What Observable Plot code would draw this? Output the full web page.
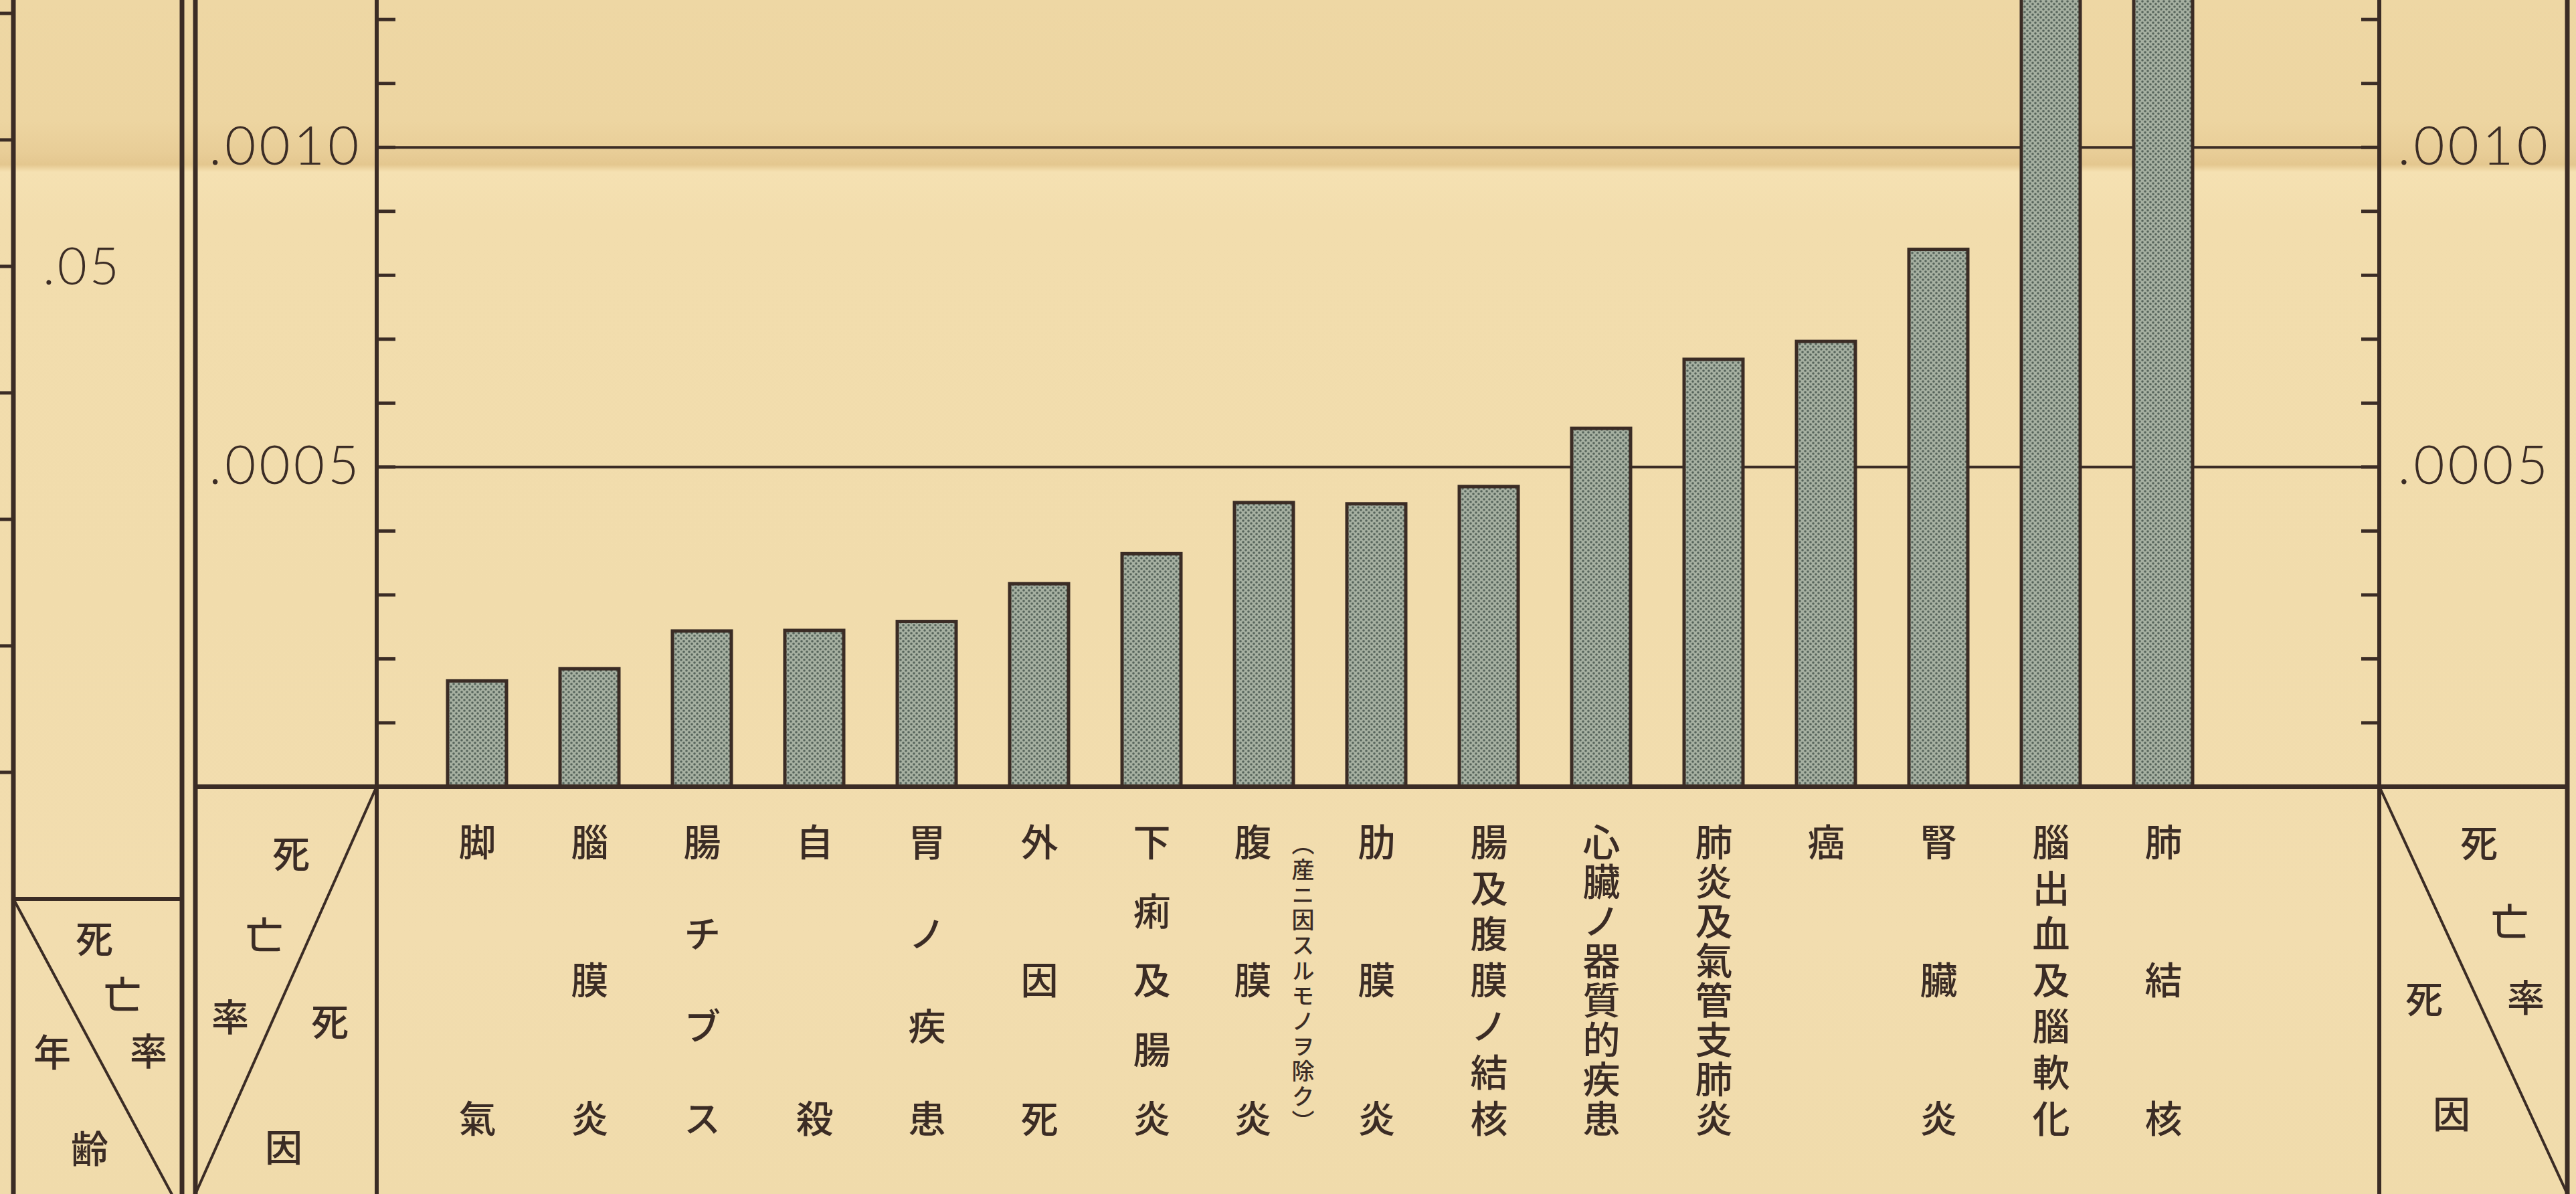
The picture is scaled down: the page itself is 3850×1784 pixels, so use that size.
<!DOCTYPE html>
<html>
<head>
<meta charset="utf-8">
<script src="https://cdn.jsdelivr.net/npm/d3@7"></script>
<script src="https://cdn.jsdelivr.net/npm/@observablehq/plot@0.6"></script>
<style>
  html, body { margin: 0; padding: 0; width: 3850px; height: 1784px; overflow: hidden; }
  body {
    background: linear-gradient(to bottom,
      #eed7a4 0px, #edd5a1 180px, #e8cd97 228px, #e4c78f 246px, #f5e1b2 257px,
      #f2ddad 330px, #f1dcac 900px, #f2ddaf 1400px, #f0dbab 1784px);
  }
  #chart svg { display: block; }
  .vert { writing-mode: vertical-rl; }
</style>
</head>
<body>
<div id="chart"></div>
<script>
// ---- data ----
const causes = [
  "脚氣", "腦膜炎", "腸チブス", "自殺", "胃ノ疾患", "外因死", "下痢及腸炎", "腹膜炎",
  "肋膜炎", "腸及腹膜ノ結核", "心臟ノ器質的疾患", "肺炎及氣管支肺炎", "癌", "腎臟炎",
  "腦出血及腦軟化", "肺結核"
];
const rates = [
  0.000165, 0.000184, 0.000243, 0.000244, 0.000258, 0.000317, 0.000364, 0.000444,
  0.000442, 0.000469, 0.000560, 0.000668, 0.000696, 0.000840,
  0.00132, 0.00148
];
const noteCause = "腹膜炎";
const noteText = "（産ニ因スルモノヲ除ク）";
const yTicks = [0.0001, 0.0002, 0.0003, 0.0004, 0.0005, 0.0006, 0.0007, 0.0008, 0.0009, 0.0010, 0.0011, 0.0012];
const yLabels = [0.0005, 0.0010];
const stripTicks = [0.01, 0.02, 0.03, 0.04, 0.05, 0.06, 0.07];
const stripLabels = [0.05];
const headerRateLabel = "死亡率";
const headerCauseLabel = "死因";
const headerAgeLabel = "年齢";

// ---- layout ----
const W = 3850, H = 1784;
const AXL = 563, AXR = 3556, BASE = 1175;
const INK = "#3b2c25";
const CJK = "'Noto Sans CJK JP', 'Noto Sans CJK SC', sans-serif";
const NUM = "Lato, 'Open Sans', sans-serif";
const LABEL_TOP = 1257, LABEL_BOTTOM = 1670, LABEL_FS = 56;
const NOTE_TOP = 1261, NOTE_BOTTOM = 1675, NOTE_FS = 34;

const data = causes.map((cause, i) => ({cause, rate: rates[i]}));
const fmt = d => d.toFixed(4).replace(/^0/, "");

// category label characters, set vertically and justified down the label row
const chars = [];
const spread = (cause, text, top, bottom, dx, fs) => {
  const s = [...text], n = s.length;
  s.forEach((ch, j) => chars.push({
    cause, ch, dx, fs,
    dy: (n === 1 ? top : top + j * (bottom - top) / (n - 1)) - BASE
  }));
};
causes.forEach(c => spread(c, c, LABEL_TOP, LABEL_BOTTOM, c === noteCause ? -17 : 0, LABEL_FS));
spread(noteCause, noteText, NOTE_TOP, NOTE_BOTTOM, 58, NOTE_FS);
const labelMarks = d3.groups(chars, d => `${d.dx}|${d.dy.toFixed(2)}|${d.fs}`)
  .map(([, arr]) => Plot.text(arr, {
    x: "cause", text: "ch", frameAnchor: "bottom",
    dx: arr[0].dx, dy: arr[0].dy, fontSize: arr[0].fs,
    fontFamily: CJK, fontWeight: 500, fill: INK
  }));

const axisOpts = {
  tickSize: -28, strokeWidth: 5, color: INK, label: null,
  tickFormat: d => yLabels.includes(d) ? fmt(d) : "",
  fontSize: 80, fontFamily: NUM, fontWeight: 300
};

const plot = Plot.plot({
  width: W, height: H,
  marginLeft: AXL, marginRight: W - AXR, marginTop: 0, marginBottom: H - BASE,
  style: {background: "transparent", overflow: "visible"},
  x: {type: "band", domain: causes, range: [629, 3318], paddingInner: 0.476, paddingOuter: 0.238, align: 0.5, axis: null},
  y: {domain: [0, 0.00123], range: [BASE, 0], axis: null},
  marks: [
    Plot.ruleY(yLabels, {stroke: INK, strokeWidth: 4}),
    Plot.axisY(yTicks, {...axisOpts, anchor: "left", textAnchor: "end", tickPadding: 50}),
    Plot.axisY(yTicks, {...axisOpts, anchor: "right", textAnchor: "start", tickPadding: 55}),
    Plot.barY(data, {x: "cause", y: "rate", fill: "url(#stip)", stroke: INK, strokeWidth: 5, clip: true}),
    Plot.ruleY([0], {stroke: INK, strokeWidth: 7, insetLeft: -(AXL - 292), insetRight: -(3837 - AXR)}),
    ...labelMarks
  ]
});
document.getElementById("chart").appendChild(plot);

const svg = d3.select(plot);
svg.selectAll('[aria-label="y-axis tick label"] text').attr("letter-spacing", 5);
// vertical setting for the category characters (each centred on its point)
svg.selectAll('g[aria-label="text"] text')
  .classed("vert", true).style("writing-mode", "vertical-rl")
  .attr("y", 0).attr("text-anchor", "middle");

// ---- bar stipple pattern ----
const defs = svg.insert("defs", ":first-child");
const pat = defs.append("pattern").attr("id", "stip").attr("patternUnits", "userSpaceOnUse")
  .attr("width", 8).attr("height", 8);
pat.append("rect").attr("width", 8).attr("height", 8).attr("fill", "#a6b0a1");
pat.append("circle").attr("cx", 2).attr("cy", 2).attr("r", 1.8).attr("fill", "#56645b");
pat.append("circle").attr("cx", 6).attr("cy", 6).attr("r", 1.8).attr("fill", "#56645b");

// ---- table frame (ruled lines of the printed sheet) ----
const g = svg.append("g").attr("stroke", INK).attr("fill", "none").attr("stroke-linecap", "square");
const vline = (x, w) => g.append("line").attr("x1", x).attr("x2", x).attr("y1", -10).attr("y2", H + 10).attr("stroke-width", w);
vline(20, 7); vline(272, 7); vline(292, 7); vline(AXL, 6); vline(AXR, 6); vline(3837, 7);
g.append("line").attr("x1", 20).attr("x2", 272).attr("y1", 1343).attr("y2", 1343).attr("stroke-width", 6);
const diag = (x1, y1, x2, y2) => g.append("line").attr("x1", x1).attr("y1", y1).attr("x2", x2).attr("y2", y2).attr("stroke-width", 4);
diag(20, 1343, 262, H + 10);
diag(AXL, BASE, 292, H);
diag(AXR, BASE, 3837, H);

// neighbouring chart's right-hand scale (left strip)
const stripY = d3.scaleLinear([0, 0.07], [1343, 20]);
stripTicks.forEach(t => g.append("line").attr("x1", 20).attr("x2", -10)
  .attr("y1", stripY(t)).attr("y2", stripY(t)).attr("stroke-width", 5));
stripLabels.forEach(t => svg.append("text").attr("x", 64).attr("y", stripY(t))
  .attr("dy", "0.36em").attr("text-anchor", "start").attr("font-family", NUM).attr("font-weight", 300)
  .attr("font-size", 76).attr("fill", INK).attr("letter-spacing", 4)
  .text(t.toFixed(2).replace(/^0/, "")));

// header box captions (single characters, set vertically)
const cap = (ch, x, y) => svg.append("text").attr("x", x).attr("y", y)
  .classed("vert", true).style("writing-mode", "vertical-rl")
  .attr("text-anchor", "middle").attr("font-family", CJK).attr("font-weight", 500)
  .attr("font-size", 56).attr("fill", INK).text(ch);
const R = [...headerRateLabel], C = [...headerCauseLabel], A = [...headerAgeLabel];
// left strip: 死亡率 / 年齢
cap(R[0], 141, 1402); cap(R[1], 183, 1486); cap(R[2], 222, 1570);
cap(A[0], 78, 1572); cap(A[1], 134, 1716);
// main left: 死亡率 / 死因
cap(R[0], 435, 1275); cap(R[1], 395, 1397); cap(R[2], 344, 1519);
cap(C[0], 493, 1526); cap(C[1], 424, 1714);
// main right: 死亡率 / 死因
cap(R[0], 3705, 1259); cap(R[1], 3751, 1377); cap(R[2], 3775, 1490);
cap(C[0], 3623, 1492); cap(C[1], 3664, 1664);
</script>
</body>
</html>
